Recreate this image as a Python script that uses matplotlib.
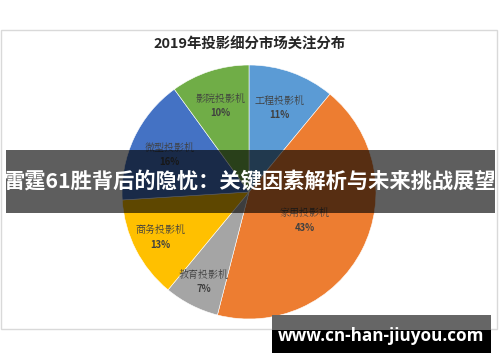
import matplotlib
matplotlib.use("Agg")
import matplotlib.pyplot as plt
from matplotlib.patches import Rectangle
import numpy as np

plt.rcParams['font.family'] = ['Noto Sans CJK SC', 'DejaVu Sans']

title = "2019年投影细分市场关注分布"
categories = ["工程投影机", "家用投影机", "教育投影机", "商务投影机", "微型投影机", "影院投影机"]
values = [11, 43, 7, 13, 16, 10]
colors = ["#5B9BD5", "#ED7D31", "#A5A5A5", "#FFC000", "#4472C4", "#70AD47"]
label_radius = [0.71, 0.49, 0.79, 0.78, 0.69, 0.72]
banner_text = "雷霆61胜背后的隐忧：关键因素解析与未来挑战展望"
watermark = "www.cn-han-jiuyou.com"

W, H = 500, 362
fig = plt.figure(figsize=(W / 100, H / 100), dpi=100)
fig.patch.set_facecolor("white")

# background axes in pixel coords (y downwards)
bg = fig.add_axes([0, 0, 1, 1])
bg.set_xlim(0, W)
bg.set_ylim(H, 0)
bg.axis("off")
bg.add_patch(Rectangle((1, 30), 496, 299, fill=False, edgecolor="#D9D9D9", lw=1))
bg.text(250, 45, title, ha="center", va="center", fontsize=10.4, fontweight="bold", color="#262626")

# pie axes
cx, cy, r = 249, 192, 127
pax = fig.add_axes([(cx - r) / W, (H - cy - r) / H, 2 * r / W, 2 * r / H])
wedges, _ = pax.pie(values, colors=colors, startangle=90, counterclock=False, radius=1,
                    wedgeprops=dict(edgecolor="white", linewidth=0.4))
pax.set_xlim(-1, 1)
pax.set_ylim(-1, 1)
pax.set_aspect("equal")
pax.axis("off")
for w, cat, v, lr in zip(wedges, categories, values, label_radius):
    ang = np.deg2rad((w.theta1 + w.theta2) / 2)
    x, y = lr * np.cos(ang), lr * np.sin(ang)
    pax.text(x, y + 0.05, cat, ha="center", va="center", fontsize=7.2, color="#404040",
             family=['Noto Serif CJK SC', 'Noto Sans CJK SC', 'DejaVu Sans'])
    pax.text(x, y - 0.06, f"{v}%", ha="center", va="center", fontsize=6.8, color="#404040",
             fontweight="bold")

# overlay axes on top
ov = fig.add_axes([0, 0, 1, 1])
ov.set_xlim(0, W)
ov.set_ylim(H, 0)
ov.axis("off")
ov.patch.set_alpha(0)
ov.add_patch(Rectangle((6, 150), 489, 63, facecolor="black", alpha=0.63, edgecolor="none"))
ov.text(250, 182, banner_text, ha="center", va="center", fontsize=15.3, fontweight="bold", color="white")
ov.add_patch(Rectangle((272, 315), 219, 15, facecolor="#666666", edgecolor="none"))
ov.add_patch(Rectangle((272, 330), 219, 23, facecolor="black", edgecolor="none"))
ov.text(381, 336, watermark, ha="center", va="center", fontsize=12.3, fontweight="bold", color="white",
        family=['Open Sans', 'DejaVu Sans'])

fig.savefig("out.png", dpi=100)
